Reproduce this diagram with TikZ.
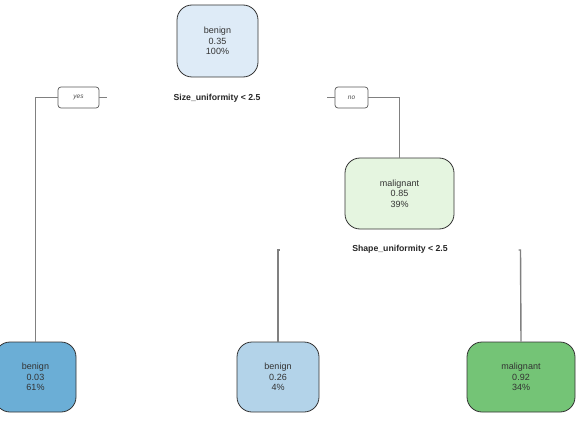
\documentclass[tikz,border=0pt]{standalone}
\usepackage{fontspec}
\setmainfont{Liberation Sans}
\usepackage{tikz}

\definecolor{rootfill}{HTML}{DEEBF7}
\definecolor{mfill}{HTML}{E5F5E0}
\definecolor{bluefill}{HTML}{6BAED6}
\definecolor{lbluefill}{HTML}{B3D3E9}
\definecolor{greenfill}{HTML}{74C476}
\definecolor{edgegray}{HTML}{808080}

\tikzset{
  leaf/.style={draw=black!80, line width=0.8pt, rounded corners=15pt, align=center,
    font=\fontsize{9}{10.3}\selectfont, text=black!80, minimum height=71pt},
  yn/.style={draw=black!65, line width=0.7pt, rounded corners=3pt, fill=white,
    font=\fontsize{6.5}{7}\selectfont\itshape, text=black!70, minimum height=21pt},
  split/.style={font=\fontsize{8.7}{9}\selectfont\bfseries, text=black!85},
  edge/.style={edgegray, line width=1.4pt}
}

\begin{document}
\begin{tikzpicture}[x=1pt, y=-1pt]
\useasboundingbox (0,0) rectangle (583,425);
\node [leaf, fill=rootfill, minimum width=81pt, minimum height=72pt] (r) at (217.5,41) {benign\\0.35\\100\%};
\node [split] (s1) at (217,98) {Size\_uniformity < 2.5};
\node [yn, minimum width=41pt] (yes) at (78.5,97.5) {yes};
\node [yn, minimum width=33pt] (no) at (351.5,97.5) {no};
\node [leaf, fill=mfill, minimum width=109pt] (m) at (399.5,193.5) {malignant\\0.85\\39\%};
\node [split] (s2) at (400,249) {Shape\_uniformity < 2.5};
\node [leaf, fill=bluefill, minimum width=81pt, minimum height=70pt] (l1) at (35.5,377) {benign\\0.03\\61\%};
\node [leaf, fill=lbluefill, minimum width=82pt, minimum height=70pt] (l2) at (278,377) {benign\\0.26\\4\%};
\node [leaf, fill=greenfill, minimum width=108pt, minimum height=70pt] (l3) at (521,377) {malignant\\0.92\\34\%};
\coordinate (c2l) at (278,250);
\coordinate (c2r) at (520.5,250);

\draw [edge] (yes.west) -| (l1.north);
\draw [edge] (yes.east) -- ++(8,0);
\draw [edge] (no.west) -- ++(-8,0);
\draw [edge] (no.east) -| (m.north);
\draw [edge] (l2.north) -- (c2l) -- ++(2,0);
\draw [edge] (l3.north) -- (c2r) -- ++(-2,0);
\end{tikzpicture}
\end{document}
